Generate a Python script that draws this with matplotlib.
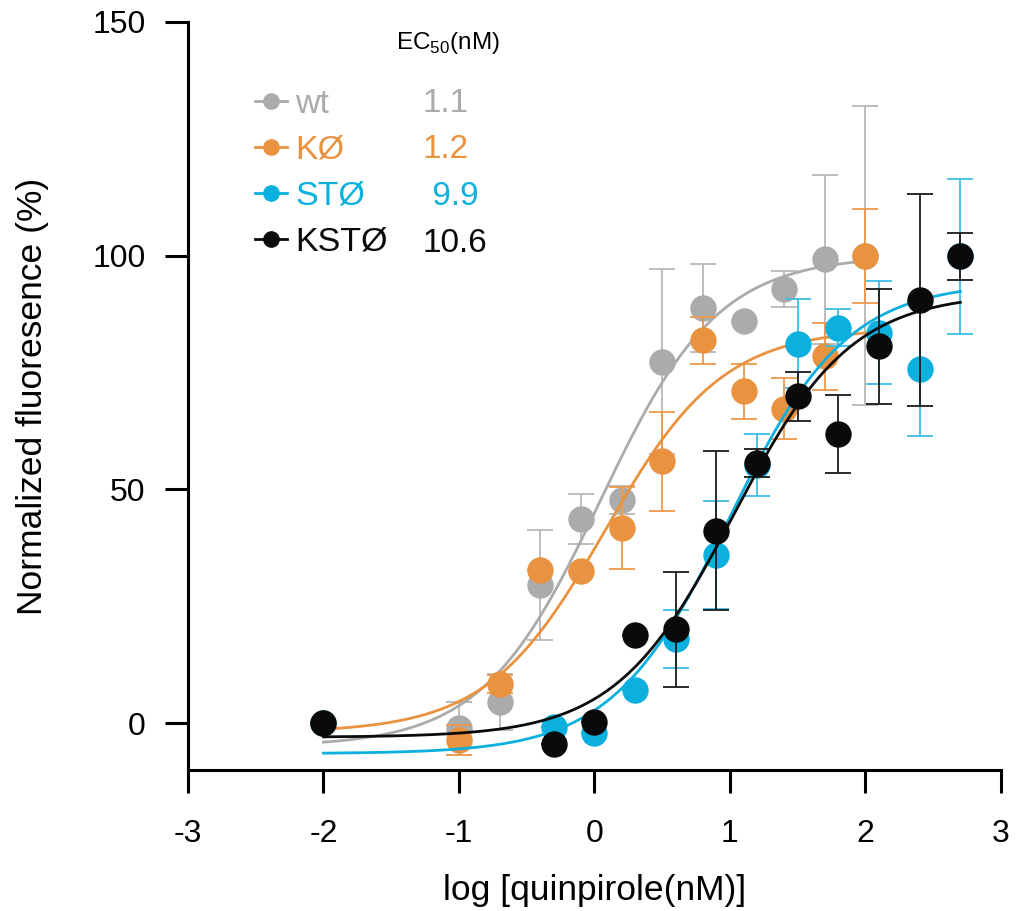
import numpy as np
import matplotlib.pyplot as plt
from matplotlib.lines import Line2D

plt.rcParams['font.family'] = ['Liberation Sans', 'DejaVu Sans']
plt.rcParams['axes.unicode_minus'] = False
plt.rcParams['mathtext.fontset'] = 'custom'
plt.rcParams['mathtext.rm'] = 'Liberation Sans'

# log [quinpirole (nM)]
x_wt = [-2, -1.0, -0.7, -0.4, -0.1, 0.2, 0.5, 0.8, 1.1, 1.4, 1.7, 2.0]
x_st = [-2, -0.3, 0.0, 0.3, 0.6, 0.9, 1.2, 1.5, 1.8, 2.1, 2.4, 2.7]

# normalized fluorescence (%) and SEM
wt_y = [0, -1.1, 4.6, 29.6, 43.7, 47.8, 77.3, 88.9, 86.0, 92.9, 99.2, 100]
wt_err = [0, 5.7, 6.0, 11.7, 5.3, 3.0, 19.8, 9.4, 0, 3.8, 18.0, 32.0]
ko_y = [0, -3.6, 8.4, 32.8, 32.5, 41.8, 56.0, 81.9, 71.0, 67.3, 78.5, 99.9]
ko_err = [0, 3.3, 2.0, 0, 0, 8.8, 10.6, 5.0, 5.9, 6.5, 7.2, 10.0]
sto_y = [0, -0.8, -2.0, 7.0, 18.0, 36.0, 55.3, 81.2, 84.6, 83.5, 75.8, 99.9]
sto_err = [0, 0, 0, 0, 6.2, 11.5, 6.6, 9.6, 4.0, 11.0, 14.4, 16.6]
ksto_y = [0, -4.5, 0.3, 18.8, 20.1, 41.2, 55.7, 69.9, 61.9, 80.6, 90.5, 99.9]
ksto_err = [0, 0, 0, 0, 12.3, 17.0, 3.0, 5.2, 8.3, 12.3, 22.7, 5.0]

names = ['wt', 'KØ', 'STØ', 'KSTØ']
ec50 = [1.1, 1.2, 9.9, 10.6]
ec50_txt = ['1.1', '1.2', ' 9.9', '10.6']
bottoms = [-5, -2, -6.5, -3]
tops = [100, 84.5, 94.3, 92]
hills = [1.0, 1.0, 1.0, 1.0]
colors = ['#ABABAB', '#E9923F', '#0BB0DF', '#0A0A0A']
ecolors = ['#B8B8B8', '#EC9A4C', '#3DBDE6', '#1A1A1A']

xs = [x_wt, x_wt, x_st, x_st]
ys = [wt_y, ko_y, sto_y, ksto_y]
errs = [wt_err, ko_err, sto_err, ksto_err]

fig = plt.figure(figsize=(10.26, 9.11), dpi=100)
ax = fig.add_axes([0.1832, 0.1548, 0.7924, 0.8211])

for i in range(4):
    x = np.array(xs[i])
    y = np.array(ys[i])
    e = np.array(errs[i])
    z = 3 + i * 3
    ax.errorbar(x, y, yerr=e, fmt='none', ecolor=ecolors[i], elinewidth=1.3,
                capsize=9.5, capthick=1.3, zorder=z)
    ax.plot(x, y, 'o', color=colors[i], markersize=19, markeredgewidth=0, zorder=z + 1)
    xx = np.linspace(x.min(), x.max(), 300)
    fit = bottoms[i] + (tops[i] - bottoms[i]) / (1 + 10 ** ((np.log10(ec50[i]) - xx) * hills[i]))
    ax.plot(xx, fit, color=colors[i], lw=2.0, zorder=z + 2)

ax.set_xlim(-3, 3)
ax.set_ylim(-10, 150)
ax.set_xticks([-3, -2, -1, 0, 1, 2, 3])
ax.set_yticks([0, 50, 100, 150])
for s in ['top', 'right']:
    ax.spines[s].set_visible(False)
for s in ['left', 'bottom']:
    ax.spines[s].set_linewidth(2.2)
ax.tick_params(width=2.2, length=16.5, labelsize=23)
ax.tick_params(axis='x', pad=19)
ax.tick_params(axis='y', pad=14)
ax.set_xlabel('log [quinpirole(nM)]', fontsize=25.5, labelpad=18)
ax.set_ylabel('Normalized fluoresence (%)', fontsize=25.5, labelpad=31)

handles = [Line2D([], [], color=c, marker='o', markersize=11, lw=2) for c in colors]
leg = ax.legend(handles, names, loc='upper left', bbox_to_anchor=(0.0824, 0.911),
                frameon=False, fontsize=24.5, handlelength=0.94, handletextpad=0.24,
                labelspacing=0.445, borderpad=0, borderaxespad=0, labelcolor='linecolor')

ax.text(0.256, 0.972, r'EC$_{50}$(nM)', transform=ax.transAxes, fontsize=17.5,
        ha='left', va='center')
row_y = [0.891, 0.829, 0.767, 0.704]
for i in range(4):
    ax.text(0.289, row_y[i], ec50_txt[i], transform=ax.transAxes, fontsize=24,
            color=colors[i], ha='left', va='center')

fig.savefig('out.png', dpi=100)
